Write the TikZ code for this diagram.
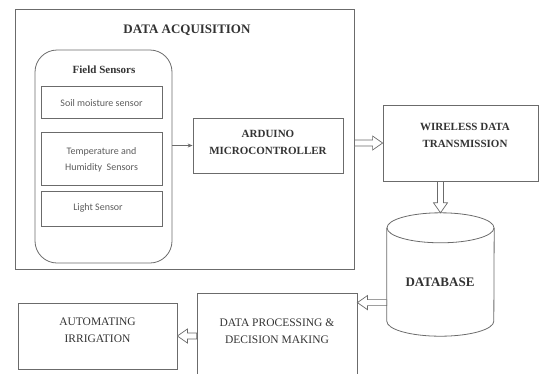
\documentclass[tikz,border=0pt]{standalone}
\usepackage{fontspec}
\setmainfont{Liberation Serif}
\newfontfamily\calib{Carlito}
\usetikzlibrary{calc,arrows.meta}
\definecolor{linegray}{gray}{0.42}
\definecolor{txtgray}{gray}{0.2}
\tikzset{
  box/.style={draw=linegray, line width=0.8pt, rectangle, inner sep=0pt},
  sensorbox/.style={box, minimum width=121pt},
  ttl/.style={text=txtgray, font=\fontsize{11}{17}\selectfont\bfseries, align=center, inner sep=0pt},
  ttlreg/.style={text=txtgray, font=\fontsize{11.5}{17}\selectfont, align=center, inner sep=0pt},
  senstxt/.style={text=txtgray!80, font=\calib\fontsize{10}{16.5}\selectfont, align=center, inner sep=0pt},
  blockarrow/.style={draw=linegray, line width=0.7pt, fill=white, to path={
    let \p1=(\tikztostart), \p2=(\tikztotarget), \n1={atan2(\y2-\y1,\x2-\x1)} in
    ($(\p1)+({\n1+90}:3pt)$) -- ($(\p2)+(\n1:-10pt)+({\n1+90}:3pt)$)
    -- ($(\p2)+(\n1:-10pt)+({\n1+90}:7pt)$) -- (\p2)
    -- ($(\p2)+(\n1:-10pt)+({\n1-90}:7pt)$) -- ($(\p2)+(\n1:-10pt)+({\n1-90}:3pt)$)
    -- ($(\p1)+({\n1-90}:3pt)$) -- cycle}}
}
\begin{document}
\begin{tikzpicture}[x=1pt,y=-1pt]
\useasboundingbox (0,0) rectangle (540,373);
\clip (0,0) rectangle (540,373);

% Data acquisition block
\node[box, minimum width=339pt, minimum height=260pt] (acq) at (184.5,139) {};
\node[ttl, font=\fontsize{13}{16}\selectfont\bfseries] (acqtitle) at (187,30) {DATA ACQUISITION};

\node[box, rounded corners=22pt, minimum width=137pt, minimum height=213pt] (field) at (103.5,156.5) {};
\node[ttl] (fieldtitle) at (104,70) {Field Sensors};

\node[sensorbox, minimum height=32pt] (soil) at (101.5,102) {};
\node[senstxt] (soiltxt) at (101.5,103) {Soil moisture sensor};
\node[sensorbox, minimum height=53pt] (temp) at (101.5,158.5) {};
\node[senstxt] (temptxt) at (101.5,160) {Temperature and\\Humidity\ \ Sensors};
\node[sensorbox, minimum height=35pt] (light) at (101.5,208.5) {};
\node[senstxt] (lighttxt) at (98,208) {Light Sensor};

\node[box, minimum width=150pt, minimum height=55pt] (arduino) at (268,145.5) {};
\node[ttl] (arduinotxt) at (268,142) {ARDUINO\\MICROCONTROLLER};

% Right side
\node[box, minimum width=155pt, minimum height=76pt] (wireless) at (460.5,143) {};
\node[ttl] (wirelesstxt) at (465,135.5) {WIRELESS DATA\\TRANSMISSION};

\node[rectangle, inner sep=0pt, minimum width=107pt, minimum height=123pt] (db) at (440.5,274.5) {};
\draw[linegray, line width=0.8pt] ($(db.north west)+(0,15)$) -- ($(db.south west)+(0,-15)$)
  arc[start angle=180, end angle=360, x radius=53.5pt, y radius=15pt]
  -- ($(db.north east)+(0,15)$);
\draw[linegray, line width=0.8pt] ($(db.north)+(0,15)$) ellipse[x radius=53.5pt, y radius=15pt];
\node[ttl, font=\fontsize{13}{16}\selectfont\bfseries] (dbtxt) at (440,282) {DATABASE};

% Bottom row
\node[box, minimum width=160pt, minimum height=97pt] (decision) at (277,341.5) {};
\node[ttlreg] (decisiontxt) at (277,331) {DATA PROCESSING \&\\DECISION MAKING};
\node[box, minimum width=159pt, minimum height=66pt] (auto) at (97.5,336) {};
\node[ttlreg] (autotxt) at (97.5,330.5) {AUTOMATING\\IRRIGATION};

% Connectors
\draw[linegray, line width=0.7pt, -{Stealth[length=5pt,width=4pt]}] (field.east |- arduino.west) -- (arduino.west);
\draw[blockarrow] (acq.east |- wireless.west) to (wireless.west);
\draw[blockarrow] (db.north |- wireless.south) to (db.north);
\coordinate (dpin) at ([yshift=-10pt]decision.north east);
\draw[blockarrow] (db.west |- dpin) to (dpin);
\draw[blockarrow] (decision.west |- auto.east) to (auto.east);
\end{tikzpicture}
\end{document}
